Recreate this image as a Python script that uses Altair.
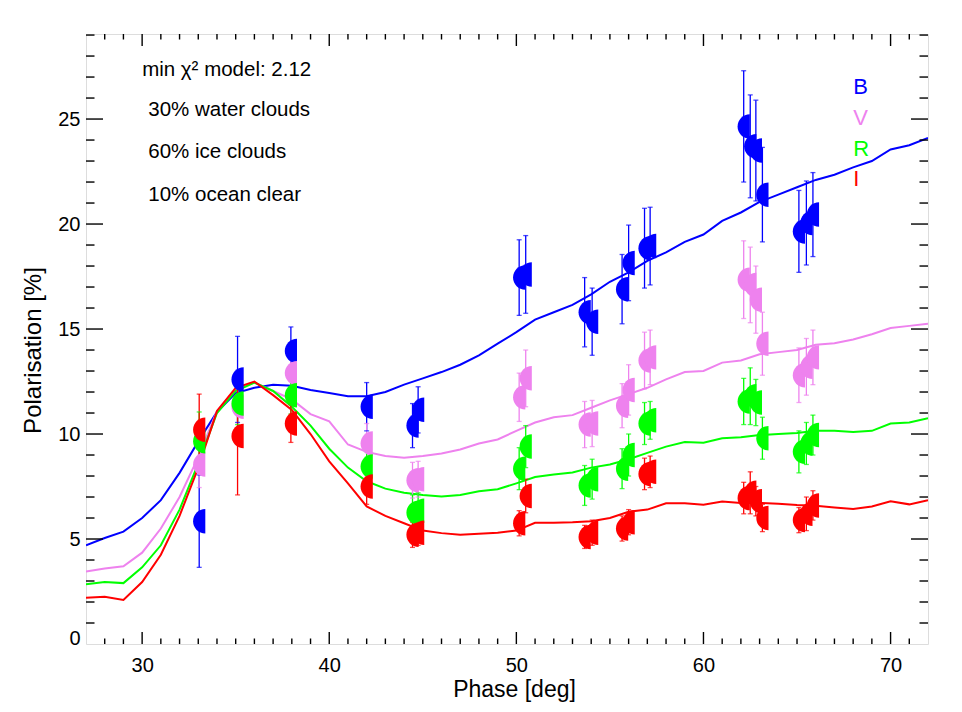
import altair as alt
import pandas as pd

FONT = "Liberation Sans"

bands = ["B", "V", "R", "I"]
band_colors = ["#0000ff", "#ee82ee", "#00ff00", "#ff0000"]

# observed phases
obs_phase = [33.05, 35.1, 37.95, 42.0, 44.45, 44.75, 50.15, 50.5, 53.65, 54.05,
             55.65, 56.0, 56.85, 57.15, 62.15, 62.5, 62.8, 63.15, 65.1, 65.5, 65.85]

obs_B = [5.85, 12.6, 13.95, 11.3, 10.4, 11.15, 17.45, 17.6, 15.8, 15.35,
         16.9, 18.15, 18.85, 18.95, 24.65, 23.7, 23.5, 21.4, 19.65, 20.05, 20.45]
err_B = [2.2, 2.05, 1.15, 1.15, 1.05, 1.1, 1.8, 1.85, 1.65, 1.6,
         1.65, 1.8, 1.9, 1.85, 2.65, 2.45, 2.4, 2.25, 1.95, 2.0, 2.0]
obs_V = [8.55, 11.3, 12.9, 9.55, 7.8, 7.85, 11.75, 12.65, 10.45, 10.5,
         11.35, 12.1, 13.5, 13.65, 17.35, 17.1, 16.4, 14.3, 12.8, 13.2, 13.65]
err_V = [1.1, 1.2, 1.2, 0.95, 0.85, 0.85, 1.15, 1.35, 1.1, 1.1,
         1.05, 1.2, 1.35, 1.3, 1.85, 1.8, 1.6, 1.5, 1.3, 1.35, 1.3]
obs_R = [9.65, 11.45, 11.85, 8.45, 6.25, 6.35, 8.35, 9.4, 7.55, 7.85,
         8.35, 9.0, 10.5, 10.65, 11.55, 11.8, 11.5, 9.8, 9.15, 9.55, 9.95]
err_R = [1.4, 1.0, 0.9, 0.9, 0.85, 0.85, 1.0, 1.0, 0.95, 0.95,
         0.95, 1.0, 1.0, 0.9, 1.1, 1.35, 1.1, 1.0, 1.0, 1.0, 0.95]
obs_I = [10.2, 9.9, 10.5, 7.5, 5.2, 5.3, 5.75, 7.05, 5.1, 5.3,
         5.5, 5.8, 8.1, 8.2, 6.95, 7.2, 6.8, 6.0, 5.9, 6.2, 6.6]
err_I = [1.7, 2.8, 0.9, 0.85, 0.6, 0.6, 0.6, 0.8, 0.55, 0.6,
         0.6, 0.6, 0.75, 0.75, 0.75, 1.0, 0.7, 0.65, 0.6, 0.8, 0.7]

# model curves, phase 27..72
model_phase = [27, 28, 29, 30, 31, 32, 33, 34, 35, 36, 37, 38, 39, 40, 41, 42, 43, 44, 45, 46, 47, 48, 49,
               50, 51, 52, 53, 54, 55, 56, 57, 58, 59, 60, 61, 62, 63, 64, 65, 66, 67, 68, 69, 70, 71, 72]
model_B = [4.7, 5.05, 5.35, 6.0, 6.85, 8.15, 9.65, 11.05, 11.95, 12.2, 12.35, 12.3, 12.1, 11.95, 11.8, 11.8,
           12.0, 12.35, 12.65, 12.95, 13.3, 13.75, 14.3, 14.85, 15.45, 15.8, 16.15, 16.65, 17.25, 17.7,
           18.25, 18.65, 19.15, 19.5, 20.15, 20.55, 21.05, 21.4, 21.75, 22.1, 22.35, 22.7, 23.0, 23.55,
           23.75, 24.1]
model_V = [3.45, 3.6, 3.7, 4.35, 5.5, 7.0, 8.9, 11.1, 12.15, 12.45, 12.05, 11.65, 10.95, 10.6, 9.5, 9.15,
           8.95, 8.87, 8.95, 9.07, 9.26, 9.55, 9.74, 10.15, 10.55, 10.8, 10.9, 11.25, 11.6, 11.9, 12.2,
           12.6, 12.95, 13.0, 13.4, 13.5, 13.8, 13.9, 14.0, 14.25, 14.32, 14.5, 14.75, 15.05, 15.15, 15.25]
model_R = [2.85, 2.95, 2.9, 3.65, 4.7, 6.4, 8.6, 11.0, 12.05, 12.45, 12.05, 11.3, 10.4, 9.3, 8.4, 7.75,
           7.4, 7.2, 7.1, 7.02, 7.1, 7.27, 7.37, 7.65, 7.95, 8.07, 8.17, 8.4, 8.55, 8.8, 9.1, 9.4, 9.62,
           9.58, 9.8, 9.85, 9.95, 10.0, 10.05, 10.15, 10.15, 10.1, 10.15, 10.5, 10.55, 10.75]
model_I = [2.2, 2.25, 2.1, 2.95, 4.25, 6.1, 8.4, 11.1, 12.2, 12.5, 11.85, 11.15, 10.0, 8.7, 7.65, 6.55,
           6.1, 5.75, 5.4, 5.28, 5.2, 5.25, 5.3, 5.4, 5.77, 5.78, 5.8, 5.85, 6.0, 6.3, 6.4, 6.7, 6.7,
           6.63, 6.79, 6.71, 6.72, 6.68, 6.62, 6.58, 6.5, 6.43, 6.55, 6.8, 6.65, 6.85]

# annotation text
note_text = ["min \u03c7\u00b2 model: 2.12", "30% water clouds", "60% ice clouds", "10% ocean clear"]
note_x = [30.0, 30.33, 30.33, 30.33]
note_y = [27.07, 25.15, 23.14, 21.12]

# band legend letters
legend_x = [68.0, 68.0, 68.0, 68.0]
legend_y = [26.2, 24.73, 23.26, 21.82]

# axis ticks / labels
x_labels = [30, 40, 50, 60, 70]
y_labels = [0, 5, 10, 15, 20, 25]
x_minor = [v for v in range(28, 72) if v % 10 != 0]
y_minor = [v for v in range(1, 30) if v % 5 != 0]
y_major = [5, 10, 15, 20, 25]

W, H = 842, 610

# ---- tables ----
obs_vals = {"B": (obs_B, err_B), "V": (obs_V, err_V), "R": (obs_R, err_R), "I": (obs_I, err_I)}
rows = []
for b in bands:
    vals, errs = obs_vals[b]
    for p, v, e in zip(obs_phase, vals, errs):
        rows.append({"band": b, "phase": p, "val": v, "err": e})
obs_df = pd.DataFrame(rows)

model_vals = {"B": model_B, "V": model_V, "R": model_R, "I": model_I}
mrows = []
for b in bands:
    for p, v in zip(model_phase, model_vals[b]):
        mrows.append({"band": b, "phase": p, "val": v})
model_df = pd.DataFrame(mrows)

notes_df = pd.DataFrame({"t": note_text, "x": note_x, "y": note_y})
legend_df = pd.DataFrame({"band": bands, "x": legend_x, "y": legend_y})

xs = alt.Scale(domain=[27, 72], nice=False, zero=False)
ys = alt.Scale(domain=[0, 29.05], nice=False, zero=False)
cs = alt.Scale(domain=bands, range=band_colors)

XA = alt.Axis(values=x_labels, title="Phase [deg]", ticks=False, domain=False, grid=False,
              labelFontSize=20, labelFont=FONT, labelColor="black", labelPadding=11,
              titleFontSize=23, titleFont=FONT, titleFontWeight="normal", titleColor="black",
              titlePadding=3, titleX=428, format="d")
YA = alt.Axis(values=y_labels, title="Polarisation [%]", ticks=False, domain=False, grid=False,
              labelFontSize=20, labelFont=FONT, labelColor="black", labelPadding=6,
              labelFlush=True, labelFlushOffset=4, titleFontSize=24, titleFont=FONT,
              titleFontWeight="normal", titleColor="black", titlePadding=12, titleY=316,
              format="d")


def X(field):
    return alt.X(field, scale=xs, axis=XA)


def Y(field):
    return alt.Y(field, scale=ys, axis=YA)


COLOR = alt.Color("band:N", scale=cs, legend=None)

lines = alt.Chart(model_df).mark_line(strokeWidth=2, clip=True).encode(
    x=X("phase:Q"), y=Y("val:Q"), color=COLOR, detail="band:N", order="phase:Q",
)

ebase = alt.Chart(obs_df).transform_calculate(
    lo="datum.val - datum.err", hi="datum.val + datum.err"
)
bars = ebase.mark_rule(strokeWidth=1.3).encode(
    x=X("phase:Q"), y=Y("lo:Q"), y2="hi:Q", color=COLOR,
)
caps_lo = ebase.mark_tick(orient="horizontal", size=5, thickness=1.3).encode(
    x=X("phase:Q"), y=Y("lo:Q"), color=COLOR,
)
caps_hi = ebase.mark_tick(orient="horizontal", size=5, thickness=1.3).encode(
    x=X("phase:Q"), y=Y("hi:Q"), color=COLOR,
)

half_disc = "M 0.5 -1 A 1 1 0 0 0 0.5 1 Z"
points = alt.Chart(obs_df).mark_point(shape=half_disc, filled=True, size=600, opacity=1,
                                      strokeWidth=0).encode(
    x=X("phase:Q"), y=Y("val:Q"), color=COLOR,
)

notes = alt.Chart(notes_df).mark_text(align="left", baseline="alphabetic", fontSize=20.5,
                                      font=FONT, color="black").encode(
    x=X("x:Q"), y=Y("y:Q"), text="t:N",
)

legend_txt = alt.Chart(legend_df).mark_text(align="left", baseline="alphabetic", fontSize=22,
                                            font=FONT).encode(
    x=X("x:Q"), y=Y("y:Q"), text="band:N", color=COLOR,
)


def xticks(vals, length):
    df = pd.DataFrame({"v": vals})
    base = alt.Chart(df).mark_rule(color="black", strokeWidth=1.4)
    bottom = base.encode(x=X("v:Q"), y=alt.value(H), y2=alt.value(H - length))
    top = base.encode(x=X("v:Q"), y=alt.value(0), y2=alt.value(length))
    return [bottom, top]


def yticks(vals, length):
    df = pd.DataFrame({"v": vals})
    base = alt.Chart(df).mark_rule(color="black", strokeWidth=1.4)
    left = base.encode(y=Y("v:Q"), x=alt.value(0), x2=alt.value(length))
    right = base.encode(y=Y("v:Q"), x=alt.value(W), x2=alt.value(W - length))
    return [left, right]


tick_layers = xticks(x_labels, 12) + xticks(x_minor, 5.5) + yticks(y_major, 17) + yticks(y_minor, 8.5)

chart = alt.layer(
    lines, bars, caps_lo, caps_hi, points, notes, legend_txt, *tick_layers
).properties(
    width=W, height=H,
    padding={"left": 78, "top": 26, "right": 20, "bottom": 64},
    autosize=alt.AutoSizeParams(type="none"),
).configure_view(
    stroke="black", strokeWidth=1.6
).configure(
    background="white"
)

chart.save("out.html", embed_options={"renderer": "svg", "actions": False})
